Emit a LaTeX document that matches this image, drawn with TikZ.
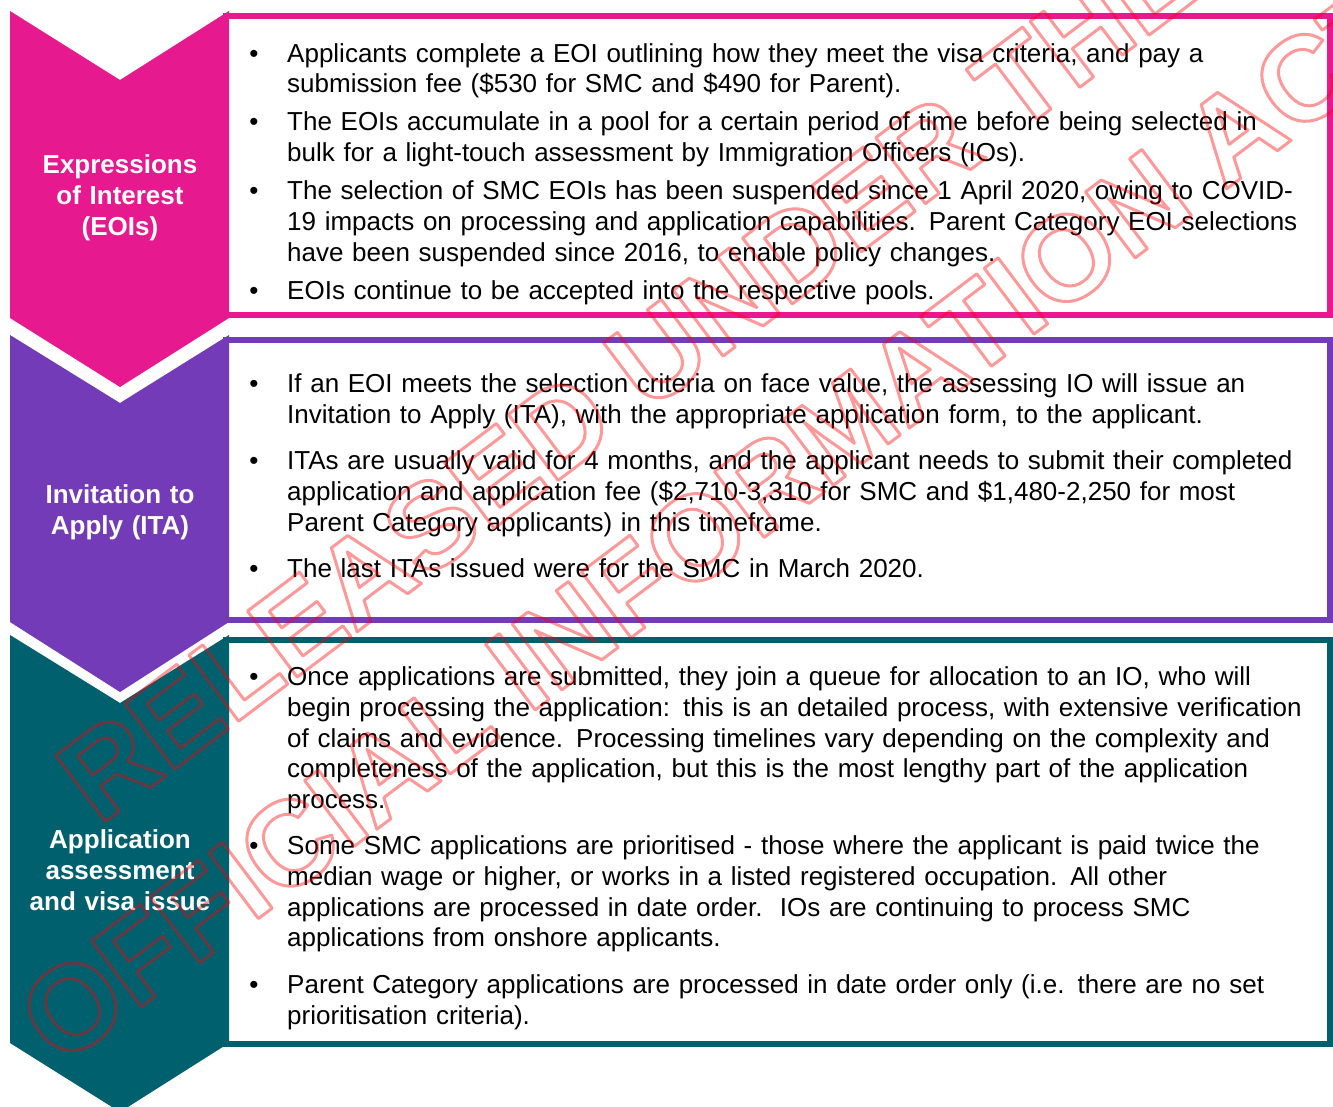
\documentclass[tikz,border=0pt]{standalone}
\usepackage{fontspec}
\setmainfont{Liberation Sans}
\definecolor{eoipink}{RGB}{230,25,142}
\definecolor{itapurple}{RGB}{115,59,184}
\definecolor{appteal}{RGB}{0,96,110}
\newcommand{\wmstroke}[1]{{\color{red}\special{pdf:literal direct 1 Tr 3 w 1 j 1 0 0 RG}#1\special{pdf:literal direct 0 Tr}}}
\begin{document}
\begin{tikzpicture}[x=1pt,y=-1pt,
  infobox/.style={draw=#1, line width=6pt, fill=white, inner sep=0pt, outer sep=0pt, anchor=north west},
  bodytext/.style={anchor=base west, text width=1100pt, align=left, inner sep=0pt, font=\fontsize{26}{30.8}\selectfont},
  bul/.style={anchor=base, inner sep=0pt, font=\fontsize{26}{30.8}\selectfont},
  chevlabel/.style={anchor=base, text width=215pt, align=center, inner sep=0pt, text=white, font=\bfseries\fontsize{26}{31.2}\selectfont},
  wmtext/.style={inner sep=0pt, rotate=37, font=\bfseries\fontsize{120}{120}\selectfont}
]
\useasboundingbox (0,0) rectangle (1333,1106);
\clip (0,0) rectangle (1333,1106);
\fill[white] (0,0) rectangle (1333,1106);

% boxes
\node[infobox=eoipink, minimum width=1104pt, minimum height=299pt] (eoibox) at (226,16) {};
\node[infobox=itapurple, minimum width=1104pt, minimum height=280pt] (itabox) at (226,340) {};
\node[infobox=appteal, minimum width=1104pt, minimum height=404pt] (appbox) at (226,640) {};

% chevrons
\fill[eoipink] (10,11) -- (120,80) -- (229,11) -- (229,318) -- (120,387) -- (10,318) -- cycle;
\fill[itapurple] (10,335) -- (120,403) -- (229,335) -- (229,622) -- (120,692) -- (10,622) -- cycle;
\fill[appteal] (10,635) -- (120,703) -- (229,635) -- (229,1043) -- (120,1112) -- (10,1043) -- cycle;

% chevron labels
\node[chevlabel] (eoilabel) at (120,173) {Expressions\\of Interest\\(EOIs)};
\node[chevlabel] (italabel) at (120,503) {Invitation to\\Apply (ITA)};
\node[chevlabel] (applabel) at (120,848) {Application\\assessment\\and visa issue};

% EOI bullets
\node[bul] (eb1) at (254,62) {•};
\node[bodytext] (et1) at (287,62) {Applicants complete a EOI outlining how they meet the visa criteria, and pay a\\submission fee (\$530 for SMC and \$490 for Parent).};
\node[bul] (eb2) at (254,130.5) {•};
\node[bodytext] (et2) at (287,130.5) {The EOIs accumulate in a pool for a certain period of time before being selected in\\bulk for a light-touch assessment by Immigration Officers (IOs).};
\node[bul] (eb3) at (254,199.5) {•};
\node[bodytext] (et3) at (287,199.5) {The selection of SMC EOIs has been suspended since 1 April 2020, owing to COVID-\\19 impacts on processing and application capabilities. Parent Category EOI selections\\have been suspended since 2016, to enable policy changes.};
\node[bul] (eb4) at (254,299) {•};
\node[bodytext] (et4) at (287,299) {EOIs continue to be accepted into the respective pools.};

% ITA bullets
\node[bul] (ib1) at (254,392.5) {•};
\node[bodytext] (it1) at (287,392.5) {If an EOI meets the selection criteria on face value, the assessing IO will issue an\\Invitation to Apply (ITA), with the appropriate application form, to the applicant.};
\node[bul] (ib2) at (254,469.5) {•};
\node[bodytext] (it2) at (287,469.5) {ITAs are usually valid for 4 months, and the applicant needs to submit their completed\\application and application fee (\$2,710-3,310 for SMC and \$1,480-2,250 for most\\Parent Category applicants) in this timeframe.};
\node[bul] (ib3) at (254,577.5) {•};
\node[bodytext] (it3) at (287,577.5) {The last ITAs issued were for the SMC in March 2020.};

% Application bullets
\node[bul] (ab1) at (254,685.5) {•};
\node[bodytext] (at1) at (287,685.5) {Once applications are submitted, they join a queue for allocation to an IO, who will\\begin processing the application: this is an detailed process, with extensive verification\\of claims and evidence. Processing timelines vary depending on the complexity and\\completeness of the application, but this is the most lengthy part of the application\\process.};
\node[bul] (ab2) at (254,854.5) {•};
\node[bodytext] (at2) at (287,854.5) {Some SMC applications are prioritised - those where the applicant is paid twice the\\median wage or higher, or works in a listed registered occupation. All other\\applications are processed in date order.\ \ IOs are continuing to process SMC\\applications from onshore applicants.};
\node[bul] (ab3) at (254,993.5) {•};
\node[bodytext] (at3) at (287,993.5) {Parent Category applications are processed in date order only (i.e. there are no set\\prioritisation criteria).};

% watermark
\begin{scope}[opacity=0.4]
\node[wmtext] (wm1) at (628,376) {\wmstroke{RELEASED UNDER THE}};
\node[wmtext] (wm2) at (716,522) {\wmstroke{OFFICIAL INFORMATION ACT}};
\end{scope}
\end{tikzpicture}
\end{document}
